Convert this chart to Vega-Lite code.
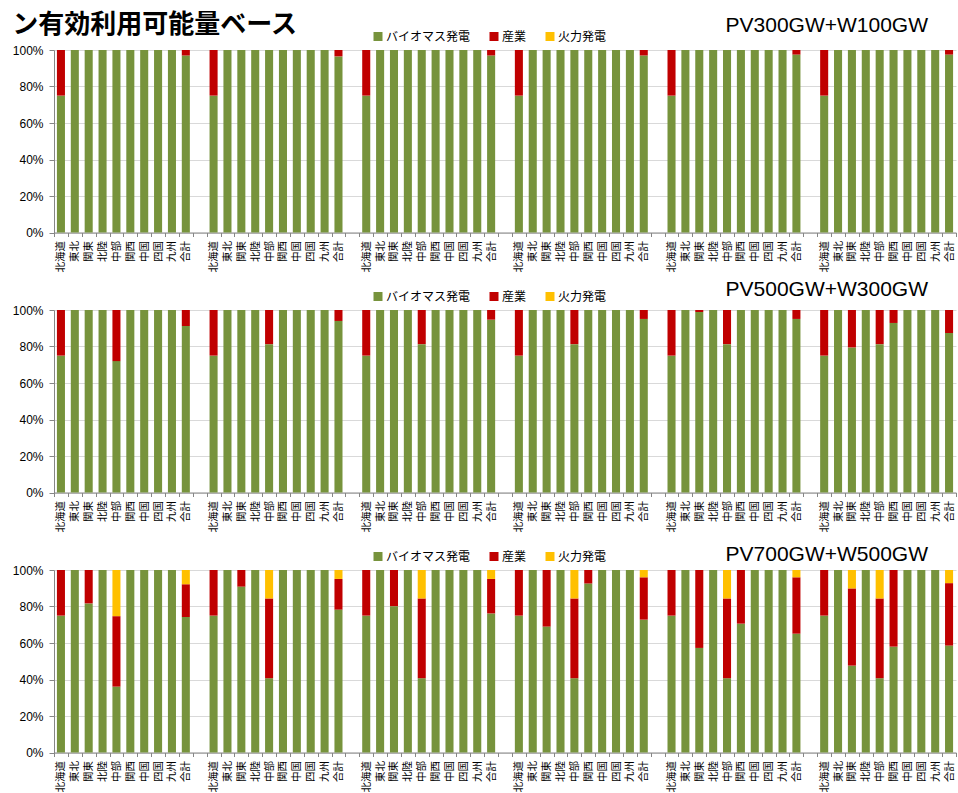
{
  "$schema": "https://vega.github.io/schema/vega-lite/v6.json",
  "autosize": {"type": "pad"},
  "padding": {"left": 12, "top": 11, "right": 3, "bottom": 0},
  "background": "white",
  "title": {
    "text": "ン有効利用可能量ベース",
    "anchor": "start",
    "font": "Noto Sans CJK JP",
    "fontSize": 26,
    "fontWeight": "bold",
    "color": "#000000",
    "baseline": "alphabetic",
    "offset": -44
  },
  "data": {
    "values": [
      {"s":1,"g":1,"r":"北海道","バイオマス発電":0.75,"産業":0.25,"火力発電":0},
      {"s":1,"g":1,"r":"東北","バイオマス発電":1,"産業":0,"火力発電":0},
      {"s":1,"g":1,"r":"関東","バイオマス発電":1,"産業":0,"火力発電":0},
      {"s":1,"g":1,"r":"北陸","バイオマス発電":1,"産業":0,"火力発電":0},
      {"s":1,"g":1,"r":"中部","バイオマス発電":1,"産業":0,"火力発電":0},
      {"s":1,"g":1,"r":"関西","バイオマス発電":1,"産業":0,"火力発電":0},
      {"s":1,"g":1,"r":"中国","バイオマス発電":1,"産業":0,"火力発電":0},
      {"s":1,"g":1,"r":"四国","バイオマス発電":1,"産業":0,"火力発電":0},
      {"s":1,"g":1,"r":"九州","バイオマス発電":1,"産業":0,"火力発電":0},
      {"s":1,"g":1,"r":"合計","バイオマス発電":0.97,"産業":0.03,"火力発電":0},
      {"s":1,"g":2,"r":"北海道","バイオマス発電":0.75,"産業":0.25,"火力発電":0},
      {"s":1,"g":2,"r":"東北","バイオマス発電":1,"産業":0,"火力発電":0},
      {"s":1,"g":2,"r":"関東","バイオマス発電":1,"産業":0,"火力発電":0},
      {"s":1,"g":2,"r":"北陸","バイオマス発電":1,"産業":0,"火力発電":0},
      {"s":1,"g":2,"r":"中部","バイオマス発電":1,"産業":0,"火力発電":0},
      {"s":1,"g":2,"r":"関西","バイオマス発電":1,"産業":0,"火力発電":0},
      {"s":1,"g":2,"r":"中国","バイオマス発電":1,"産業":0,"火力発電":0},
      {"s":1,"g":2,"r":"四国","バイオマス発電":1,"産業":0,"火力発電":0},
      {"s":1,"g":2,"r":"九州","バイオマス発電":1,"産業":0,"火力発電":0},
      {"s":1,"g":2,"r":"合計","バイオマス発電":0.965,"産業":0.035,"火力発電":0},
      {"s":1,"g":3,"r":"北海道","バイオマス発電":0.75,"産業":0.25,"火力発電":0},
      {"s":1,"g":3,"r":"東北","バイオマス発電":1,"産業":0,"火力発電":0},
      {"s":1,"g":3,"r":"関東","バイオマス発電":1,"産業":0,"火力発電":0},
      {"s":1,"g":3,"r":"北陸","バイオマス発電":1,"産業":0,"火力発電":0},
      {"s":1,"g":3,"r":"中部","バイオマス発電":1,"産業":0,"火力発電":0},
      {"s":1,"g":3,"r":"関西","バイオマス発電":1,"産業":0,"火力発電":0},
      {"s":1,"g":3,"r":"中国","バイオマス発電":1,"産業":0,"火力発電":0},
      {"s":1,"g":3,"r":"四国","バイオマス発電":1,"産業":0,"火力発電":0},
      {"s":1,"g":3,"r":"九州","バイオマス発電":1,"産業":0,"火力発電":0},
      {"s":1,"g":3,"r":"合計","バイオマス発電":0.97,"産業":0.03,"火力発電":0},
      {"s":1,"g":4,"r":"北海道","バイオマス発電":0.75,"産業":0.25,"火力発電":0},
      {"s":1,"g":4,"r":"東北","バイオマス発電":1,"産業":0,"火力発電":0},
      {"s":1,"g":4,"r":"関東","バイオマス発電":1,"産業":0,"火力発電":0},
      {"s":1,"g":4,"r":"北陸","バイオマス発電":1,"産業":0,"火力発電":0},
      {"s":1,"g":4,"r":"中部","バイオマス発電":1,"産業":0,"火力発電":0},
      {"s":1,"g":4,"r":"関西","バイオマス発電":1,"産業":0,"火力発電":0},
      {"s":1,"g":4,"r":"中国","バイオマス発電":1,"産業":0,"火力発電":0},
      {"s":1,"g":4,"r":"四国","バイオマス発電":1,"産業":0,"火力発電":0},
      {"s":1,"g":4,"r":"九州","バイオマス発電":1,"産業":0,"火力発電":0},
      {"s":1,"g":4,"r":"合計","バイオマス発電":0.97,"産業":0.03,"火力発電":0},
      {"s":1,"g":5,"r":"北海道","バイオマス発電":0.75,"産業":0.25,"火力発電":0},
      {"s":1,"g":5,"r":"東北","バイオマス発電":1,"産業":0,"火力発電":0},
      {"s":1,"g":5,"r":"関東","バイオマス発電":1,"産業":0,"火力発電":0},
      {"s":1,"g":5,"r":"北陸","バイオマス発電":1,"産業":0,"火力発電":0},
      {"s":1,"g":5,"r":"中部","バイオマス発電":1,"産業":0,"火力発電":0},
      {"s":1,"g":5,"r":"関西","バイオマス発電":1,"産業":0,"火力発電":0},
      {"s":1,"g":5,"r":"中国","バイオマス発電":1,"産業":0,"火力発電":0},
      {"s":1,"g":5,"r":"四国","バイオマス発電":1,"産業":0,"火力発電":0},
      {"s":1,"g":5,"r":"九州","バイオマス発電":1,"産業":0,"火力発電":0},
      {"s":1,"g":5,"r":"合計","バイオマス発電":0.975,"産業":0.025,"火力発電":0},
      {"s":1,"g":6,"r":"北海道","バイオマス発電":0.75,"産業":0.25,"火力発電":0},
      {"s":1,"g":6,"r":"東北","バイオマス発電":1,"産業":0,"火力発電":0},
      {"s":1,"g":6,"r":"関東","バイオマス発電":1,"産業":0,"火力発電":0},
      {"s":1,"g":6,"r":"北陸","バイオマス発電":1,"産業":0,"火力発電":0},
      {"s":1,"g":6,"r":"中部","バイオマス発電":1,"産業":0,"火力発電":0},
      {"s":1,"g":6,"r":"関西","バイオマス発電":1,"産業":0,"火力発電":0},
      {"s":1,"g":6,"r":"中国","バイオマス発電":1,"産業":0,"火力発電":0},
      {"s":1,"g":6,"r":"四国","バイオマス発電":1,"産業":0,"火力発電":0},
      {"s":1,"g":6,"r":"九州","バイオマス発電":1,"産業":0,"火力発電":0},
      {"s":1,"g":6,"r":"合計","バイオマス発電":0.975,"産業":0.025,"火力発電":0},

      {"s":2,"g":1,"r":"北海道","バイオマス発電":0.75,"産業":0.25,"火力発電":0},
      {"s":2,"g":1,"r":"東北","バイオマス発電":1,"産業":0,"火力発電":0},
      {"s":2,"g":1,"r":"関東","バイオマス発電":1,"産業":0,"火力発電":0},
      {"s":2,"g":1,"r":"北陸","バイオマス発電":1,"産業":0,"火力発電":0},
      {"s":2,"g":1,"r":"中部","バイオマス発電":0.72,"産業":0.28,"火力発電":0},
      {"s":2,"g":1,"r":"関西","バイオマス発電":1,"産業":0,"火力発電":0},
      {"s":2,"g":1,"r":"中国","バイオマス発電":1,"産業":0,"火力発電":0},
      {"s":2,"g":1,"r":"四国","バイオマス発電":1,"産業":0,"火力発電":0},
      {"s":2,"g":1,"r":"九州","バイオマス発電":1,"産業":0,"火力発電":0},
      {"s":2,"g":1,"r":"合計","バイオマス発電":0.912,"産業":0.088,"火力発電":0},
      {"s":2,"g":2,"r":"北海道","バイオマス発電":0.75,"産業":0.25,"火力発電":0},
      {"s":2,"g":2,"r":"東北","バイオマス発電":1,"産業":0,"火力発電":0},
      {"s":2,"g":2,"r":"関東","バイオマス発電":1,"産業":0,"火力発電":0},
      {"s":2,"g":2,"r":"北陸","バイオマス発電":1,"産業":0,"火力発電":0},
      {"s":2,"g":2,"r":"中部","バイオマス発電":0.813,"産業":0.187,"火力発電":0},
      {"s":2,"g":2,"r":"関西","バイオマス発電":1,"産業":0,"火力発電":0},
      {"s":2,"g":2,"r":"中国","バイオマス発電":1,"産業":0,"火力発電":0},
      {"s":2,"g":2,"r":"四国","バイオマス発電":1,"産業":0,"火力発電":0},
      {"s":2,"g":2,"r":"九州","バイオマス発電":1,"産業":0,"火力発電":0},
      {"s":2,"g":2,"r":"合計","バイオマス発電":0.94,"産業":0.06,"火力発電":0},
      {"s":2,"g":3,"r":"北海道","バイオマス発電":0.75,"産業":0.25,"火力発電":0},
      {"s":2,"g":3,"r":"東北","バイオマス発電":1,"産業":0,"火力発電":0},
      {"s":2,"g":3,"r":"関東","バイオマス発電":1,"産業":0,"火力発電":0},
      {"s":2,"g":3,"r":"北陸","バイオマス発電":1,"産業":0,"火力発電":0},
      {"s":2,"g":3,"r":"中部","バイオマス発電":0.813,"産業":0.187,"火力発電":0},
      {"s":2,"g":3,"r":"関西","バイオマス発電":1,"産業":0,"火力発電":0},
      {"s":2,"g":3,"r":"中国","バイオマス発電":1,"産業":0,"火力発電":0},
      {"s":2,"g":3,"r":"四国","バイオマス発電":1,"産業":0,"火力発電":0},
      {"s":2,"g":3,"r":"九州","バイオマス発電":1,"産業":0,"火力発電":0},
      {"s":2,"g":3,"r":"合計","バイオマス発電":0.947,"産業":0.053,"火力発電":0},
      {"s":2,"g":4,"r":"北海道","バイオマス発電":0.75,"産業":0.25,"火力発電":0},
      {"s":2,"g":4,"r":"東北","バイオマス発電":1,"産業":0,"火力発電":0},
      {"s":2,"g":4,"r":"関東","バイオマス発電":1,"産業":0,"火力発電":0},
      {"s":2,"g":4,"r":"北陸","バイオマス発電":1,"産業":0,"火力発電":0},
      {"s":2,"g":4,"r":"中部","バイオマス発電":0.813,"産業":0.187,"火力発電":0},
      {"s":2,"g":4,"r":"関西","バイオマス発電":1,"産業":0,"火力発電":0},
      {"s":2,"g":4,"r":"中国","バイオマス発電":1,"産業":0,"火力発電":0},
      {"s":2,"g":4,"r":"四国","バイオマス発電":1,"産業":0,"火力発電":0},
      {"s":2,"g":4,"r":"九州","バイオマス発電":1,"産業":0,"火力発電":0},
      {"s":2,"g":4,"r":"合計","バイオマス発電":0.951,"産業":0.049,"火力発電":0},
      {"s":2,"g":5,"r":"北海道","バイオマス発電":0.75,"産業":0.25,"火力発電":0},
      {"s":2,"g":5,"r":"東北","バイオマス発電":1,"産業":0,"火力発電":0},
      {"s":2,"g":5,"r":"関東","バイオマス発電":0.989,"産業":0.011,"火力発電":0},
      {"s":2,"g":5,"r":"北陸","バイオマス発電":1,"産業":0,"火力発電":0},
      {"s":2,"g":5,"r":"中部","バイオマス発電":0.813,"産業":0.187,"火力発電":0},
      {"s":2,"g":5,"r":"関西","バイオマス発電":1,"産業":0,"火力発電":0},
      {"s":2,"g":5,"r":"中国","バイオマス発電":1,"産業":0,"火力発電":0},
      {"s":2,"g":5,"r":"四国","バイオマス発電":1,"産業":0,"火力発電":0},
      {"s":2,"g":5,"r":"九州","バイオマス発電":1,"産業":0,"火力発電":0},
      {"s":2,"g":5,"r":"合計","バイオマス発電":0.951,"産業":0.049,"火力発電":0},
      {"s":2,"g":6,"r":"北海道","バイオマス発電":0.75,"産業":0.25,"火力発電":0},
      {"s":2,"g":6,"r":"東北","バイオマス発電":1,"産業":0,"火力発電":0},
      {"s":2,"g":6,"r":"関東","バイオマス発電":0.795,"産業":0.205,"火力発電":0},
      {"s":2,"g":6,"r":"北陸","バイオマス発電":1,"産業":0,"火力発電":0},
      {"s":2,"g":6,"r":"中部","バイオマス発電":0.813,"産業":0.187,"火力発電":0},
      {"s":2,"g":6,"r":"関西","バイオマス発電":0.929,"産業":0.071,"火力発電":0},
      {"s":2,"g":6,"r":"中国","バイオマス発電":1,"産業":0,"火力発電":0},
      {"s":2,"g":6,"r":"四国","バイオマス発電":1,"産業":0,"火力発電":0},
      {"s":2,"g":6,"r":"九州","バイオマス発電":1,"産業":0,"火力発電":0},
      {"s":2,"g":6,"r":"合計","バイオマス発電":0.874,"産業":0.126,"火力発電":0},

      {"s":3,"g":1,"r":"北海道","バイオマス発電":0.75,"産業":0.25,"火力発電":0},
      {"s":3,"g":1,"r":"東北","バイオマス発電":1,"産業":0,"火力発電":0},
      {"s":3,"g":1,"r":"関東","バイオマス発電":0.817,"産業":0.183,"火力発電":0},
      {"s":3,"g":1,"r":"北陸","バイオマス発電":1,"産業":0,"火力発電":0},
      {"s":3,"g":1,"r":"中部","バイオマス発電":0.361,"産業":0.386,"火力発電":0.253},
      {"s":3,"g":1,"r":"関西","バイオマス発電":1,"産業":0,"火力発電":0},
      {"s":3,"g":1,"r":"中国","バイオマス発電":1,"産業":0,"火力発電":0},
      {"s":3,"g":1,"r":"四国","バイオマス発電":1,"産業":0,"火力発電":0},
      {"s":3,"g":1,"r":"九州","バイオマス発電":1,"産業":0,"火力発電":0},
      {"s":3,"g":1,"r":"合計","バイオマス発電":0.743,"産業":0.179,"火力発電":0.078},
      {"s":3,"g":2,"r":"北海道","バイオマス発電":0.75,"産業":0.25,"火力発電":0},
      {"s":3,"g":2,"r":"東北","バイオマス発電":1,"産業":0,"火力発電":0},
      {"s":3,"g":2,"r":"関東","バイオマス発電":0.909,"産業":0.091,"火力発電":0},
      {"s":3,"g":2,"r":"北陸","バイオマス発電":1,"産業":0,"火力発電":0},
      {"s":3,"g":2,"r":"中部","バイオマス発電":0.407,"産業":0.437,"火力発電":0.156},
      {"s":3,"g":2,"r":"関西","バイオマス発電":1,"産業":0,"火力発電":0},
      {"s":3,"g":2,"r":"中国","バイオマス発電":1,"産業":0,"火力発電":0},
      {"s":3,"g":2,"r":"四国","バイオマス発電":1,"産業":0,"火力発電":0},
      {"s":3,"g":2,"r":"九州","バイオマス発電":1,"産業":0,"火力発電":0},
      {"s":3,"g":2,"r":"合計","バイオマス発電":0.783,"産業":0.168,"火力発電":0.049},
      {"s":3,"g":3,"r":"北海道","バイオマス発電":0.75,"産業":0.25,"火力発電":0},
      {"s":3,"g":3,"r":"東北","バイオマス発電":1,"産業":0,"火力発電":0},
      {"s":3,"g":3,"r":"関東","バイオマス発電":0.802,"産業":0.198,"火力発電":0},
      {"s":3,"g":3,"r":"北陸","バイオマス発電":1,"産業":0,"火力発電":0},
      {"s":3,"g":3,"r":"中部","バイオマス発電":0.407,"産業":0.437,"火力発電":0.156},
      {"s":3,"g":3,"r":"関西","バイオマス発電":1,"産業":0,"火力発電":0},
      {"s":3,"g":3,"r":"中国","バイオマス発電":1,"産業":0,"火力発電":0},
      {"s":3,"g":3,"r":"四国","バイオマス発電":1,"産業":0,"火力発電":0},
      {"s":3,"g":3,"r":"九州","バイオマス発電":1,"産業":0,"火力発電":0},
      {"s":3,"g":3,"r":"合計","バイオマス発電":0.762,"産業":0.189,"火力発電":0.049},
      {"s":3,"g":4,"r":"北海道","バイオマス発電":0.75,"産業":0.25,"火力発電":0},
      {"s":3,"g":4,"r":"東北","バイオマス発電":1,"産業":0,"火力発電":0},
      {"s":3,"g":4,"r":"関東","バイオマス発電":0.69,"産業":0.31,"火力発電":0},
      {"s":3,"g":4,"r":"北陸","バイオマス発電":1,"産業":0,"火力発電":0},
      {"s":3,"g":4,"r":"中部","バイオマス発電":0.407,"産業":0.437,"火力発電":0.156},
      {"s":3,"g":4,"r":"関西","バイオマス発電":0.926,"産業":0.074,"火力発電":0},
      {"s":3,"g":4,"r":"中国","バイオマス発電":1,"産業":0,"火力発電":0},
      {"s":3,"g":4,"r":"四国","バイオマス発電":1,"産業":0,"火力発電":0},
      {"s":3,"g":4,"r":"九州","バイオマス発電":1,"産業":0,"火力発電":0},
      {"s":3,"g":4,"r":"合計","バイオマス発電":0.728,"産業":0.232,"火力発電":0.04},
      {"s":3,"g":5,"r":"北海道","バイオマス発電":0.75,"産業":0.25,"火力発電":0},
      {"s":3,"g":5,"r":"東北","バイオマス発電":1,"産業":0,"火力発電":0},
      {"s":3,"g":5,"r":"関東","バイオマス発電":0.573,"産業":0.427,"火力発電":0},
      {"s":3,"g":5,"r":"北陸","バイオマス発電":1,"産業":0,"火力発電":0},
      {"s":3,"g":5,"r":"中部","バイオマス発電":0.407,"産業":0.437,"火力発電":0.156},
      {"s":3,"g":5,"r":"関西","バイオマス発電":0.706,"産業":0.294,"火力発電":0},
      {"s":3,"g":5,"r":"中国","バイオマス発電":1,"産業":0,"火力発電":0},
      {"s":3,"g":5,"r":"四国","バイオマス発電":1,"産業":0,"火力発電":0},
      {"s":3,"g":5,"r":"九州","バイオマス発電":1,"産業":0,"火力発電":0},
      {"s":3,"g":5,"r":"合計","バイオマス発電":0.651,"産業":0.309,"火力発電":0.04},
      {"s":3,"g":6,"r":"北海道","バイオマス発電":0.75,"産業":0.25,"火力発電":0},
      {"s":3,"g":6,"r":"東北","バイオマス発電":1,"産業":0,"火力発電":0},
      {"s":3,"g":6,"r":"関東","バイオマス発電":0.476,"産業":0.423,"火力発電":0.101},
      {"s":3,"g":6,"r":"北陸","バイオマス発電":1,"産業":0,"火力発電":0},
      {"s":3,"g":6,"r":"中部","バイオマス発電":0.407,"産業":0.437,"火力発電":0.156},
      {"s":3,"g":6,"r":"関西","バイオマス発電":0.58,"産業":0.42,"火力発電":0},
      {"s":3,"g":6,"r":"中国","バイオマス発電":1,"産業":0,"火力発電":0},
      {"s":3,"g":6,"r":"四国","バイオマス発電":1,"産業":0,"火力発電":0},
      {"s":3,"g":6,"r":"九州","バイオマス発電":1,"産業":0,"火力発電":0},
      {"s":3,"g":6,"r":"合計","バイオマス発電":0.586,"産業":0.342,"火力発電":0.072}
    ]
  },
  "transform": [
    {"fold": ["バイオマス発電", "産業", "火力発電"], "as": ["source", "share"]},
    {"window": [{"op": "row_number", "as": "layer"}], "groupby": ["s", "g", "r"]},
    {"calculate": "datum.g + '|' + datum.r", "as": "slot"}
  ],
  "spacing": 77,
  "bounds": "flush",
  "resolve": {"legend": {"color": "independent"}},
  "vconcat": [
    {
      "width": 902,
      "height": 182.5,
      "title": {"text": "PV300GW+W100GW", "anchor": "end", "frame": "group", "offset": -5.4, "dx": -28},
      "transform": [{"filter": "datum.s == 1"}],
      "mark": {"type": "bar", "width": {"band": 0.58}},
      "encoding": {
        "x": {"field": "slot", "type": "nominal", "title": null,
          "scale": {"domain": ["1|北海道","1|東北","1|関東","1|北陸","1|中部","1|関西","1|中国","1|四国","1|九州","1|合計","1|",
                               "2|北海道","2|東北","2|関東","2|北陸","2|中部","2|関西","2|中国","2|四国","2|九州","2|合計","2|",
                               "3|北海道","3|東北","3|関東","3|北陸","3|中部","3|関西","3|中国","3|四国","3|九州","3|合計","3|",
                               "4|北海道","4|東北","4|関東","4|北陸","4|中部","4|関西","4|中国","4|四国","4|九州","4|合計","4|",
                               "5|北海道","5|東北","5|関東","5|北陸","5|中部","5|関西","5|中国","5|四国","5|九州","5|合計","5|",
                               "6|北海道","6|東北","6|関東","6|北陸","6|中部","6|関西","6|中国","6|四国","6|九州","6|合計"],
                    "paddingInner": 0, "paddingOuter": 0},
          "axis": {"labelExpr": "split(datum.value, '|')[1]"}},
        "y": {"field": "share", "type": "quantitative", "stack": "zero", "title": null,
          "scale": {"domain": [0, 1], "nice": false},
          "axis": {"format": ".0%", "values": [0, 0.2, 0.4, 0.6, 0.8, 1]}},
        "order": {"field": "layer", "type": "quantitative", "sort": "ascending"},
        "color": {"field": "source", "type": "nominal",
          "scale": {"domain": ["バイオマス発電", "産業", "火力発電"], "range": ["#77933C", "#C00000", "#FFC000"]},
          "legend": {"orient": "none", "legendX": 318, "legendY": -19.5, "direction": "horizontal", "columns": 3, "title": null}}
      }
    },
    {
      "width": 902,
      "height": 182.5,
      "title": {"text": "PV500GW+W300GW", "anchor": "end", "frame": "group", "offset": -9.3, "dx": -28},
      "transform": [{"filter": "datum.s == 2"}],
      "mark": {"type": "bar", "width": {"band": 0.58}},
      "encoding": {
        "x": {"field": "slot", "type": "nominal", "title": null,
          "scale": {"domain": ["1|北海道","1|東北","1|関東","1|北陸","1|中部","1|関西","1|中国","1|四国","1|九州","1|合計","1|",
                               "2|北海道","2|東北","2|関東","2|北陸","2|中部","2|関西","2|中国","2|四国","2|九州","2|合計","2|",
                               "3|北海道","3|東北","3|関東","3|北陸","3|中部","3|関西","3|中国","3|四国","3|九州","3|合計","3|",
                               "4|北海道","4|東北","4|関東","4|北陸","4|中部","4|関西","4|中国","4|四国","4|九州","4|合計","4|",
                               "5|北海道","5|東北","5|関東","5|北陸","5|中部","5|関西","5|中国","5|四国","5|九州","5|合計","5|",
                               "6|北海道","6|東北","6|関東","6|北陸","6|中部","6|関西","6|中国","6|四国","6|九州","6|合計"],
                    "paddingInner": 0, "paddingOuter": 0},
          "axis": {"labelExpr": "split(datum.value, '|')[1]"}},
        "y": {"field": "share", "type": "quantitative", "stack": "zero", "title": null,
          "scale": {"domain": [0, 1], "nice": false},
          "axis": {"format": ".0%", "values": [0, 0.2, 0.4, 0.6, 0.8, 1]}},
        "order": {"field": "layer", "type": "quantitative", "sort": "ascending"},
        "color": {"field": "source", "type": "nominal",
          "scale": {"domain": ["バイオマス発電", "産業", "火力発電"], "range": ["#77933C", "#C00000", "#FFC000"]},
          "legend": {"orient": "none", "legendX": 318, "legendY": -19.5, "direction": "horizontal", "columns": 3, "title": null}}
      }
    },
    {
      "width": 902,
      "height": 182.5,
      "title": {"text": "PV700GW+W500GW", "anchor": "end", "frame": "group", "offset": -14.3, "dx": -28},
      "transform": [{"filter": "datum.s == 3"}],
      "mark": {"type": "bar", "width": {"band": 0.58}},
      "encoding": {
        "x": {"field": "slot", "type": "nominal", "title": null,
          "scale": {"domain": ["1|北海道","1|東北","1|関東","1|北陸","1|中部","1|関西","1|中国","1|四国","1|九州","1|合計","1|",
                               "2|北海道","2|東北","2|関東","2|北陸","2|中部","2|関西","2|中国","2|四国","2|九州","2|合計","2|",
                               "3|北海道","3|東北","3|関東","3|北陸","3|中部","3|関西","3|中国","3|四国","3|九州","3|合計","3|",
                               "4|北海道","4|東北","4|関東","4|北陸","4|中部","4|関西","4|中国","4|四国","4|九州","4|合計","4|",
                               "5|北海道","5|東北","5|関東","5|北陸","5|中部","5|関西","5|中国","5|四国","5|九州","5|合計","5|",
                               "6|北海道","6|東北","6|関東","6|北陸","6|中部","6|関西","6|中国","6|四国","6|九州","6|合計"],
                    "paddingInner": 0, "paddingOuter": 0},
          "axis": {"labelExpr": "split(datum.value, '|')[1]"}},
        "y": {"field": "share", "type": "quantitative", "stack": "zero", "title": null,
          "scale": {"domain": [0, 1], "nice": false},
          "axis": {"format": ".0%", "values": [0, 0.2, 0.4, 0.6, 0.8, 1]}},
        "order": {"field": "layer", "type": "quantitative", "sort": "ascending"},
        "color": {"field": "source", "type": "nominal",
          "scale": {"domain": ["バイオマス発電", "産業", "火力発電"], "range": ["#77933C", "#C00000", "#FFC000"]},
          "legend": {"orient": "none", "legendX": 318, "legendY": -19.5, "direction": "horizontal", "columns": 3, "title": null}}
      }
    }
  ],
  "config": {
    "view": {"stroke": null},
    "title": {"font": "Liberation Sans", "fontSize": 21, "fontWeight": "normal", "color": "#000000", "baseline": "alphabetic"},
    "axisX": {
      "labelAngle": -90,
      "labelFont": "Noto Sans CJK JP",
      "labelFontSize": 10.5,
      "labelColor": "#000000",
      "labelOverlap": false,
      "labelBound": false,
      "labelPadding": 4,
      "tickBand": "extent",
      "tickSize": 4,
      "tickColor": "#868686",
      "domainColor": "#868686",
      "grid": false
    },
    "axisY": {
      "labelFont": "Liberation Sans",
      "labelFontSize": 12,
      "labelColor": "#000000",
      "labelPadding": 6,
      "tickSize": 5,
      "tickColor": "#868686",
      "domainColor": "#868686",
      "grid": true,
      "gridColor": "#D9D9D9",
      "gridWidth": 1
    },
    "legend": {
      "symbolType": "square",
      "symbolSize": 81,
      "symbolStrokeWidth": 0,
      "labelFont": "Noto Sans CJK JP",
      "labelFontSize": 12,
      "labelColor": "#000000",
      "labelOffset": 2,
      "columnPadding": 17,
      "padding": 0
    }
  }
}
